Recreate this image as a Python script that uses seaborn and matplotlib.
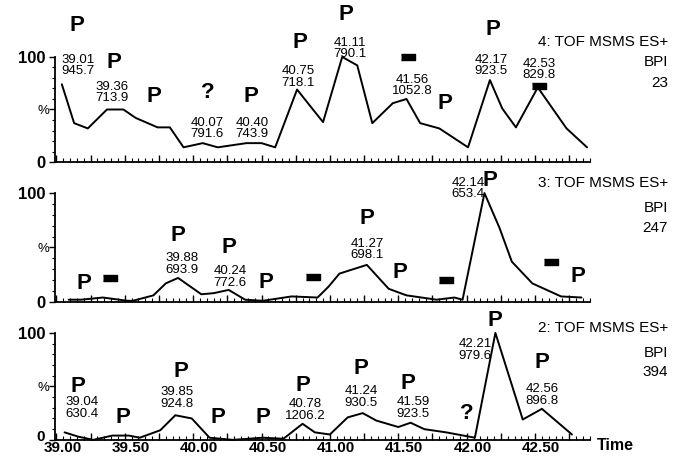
import matplotlib
matplotlib.use('Agg')
import matplotlib.pyplot as plt
import matplotlib.ticker as mticker
from matplotlib.transforms import ScaledTranslation
import numpy as np
import pandas as pd
import seaborn as sns

# trace 4 (top), 3 (middle), 2 (bottom): time (min), intensity (%)
t4 = [39.04, 39.13, 39.23, 39.37, 39.49, 39.58, 39.74, 39.83, 39.93, 40.07, 40.18, 40.39, 40.50,
      40.60, 40.76, 40.87, 40.95, 41.09, 41.20, 41.31, 41.46, 41.56, 41.66, 41.80, 42.01, 42.17,
      42.26, 42.36, 42.52, 42.73, 42.88]
i4 = [74, 37, 32, 50, 50, 42, 33, 33, 14, 18, 14, 18, 18, 14, 69, 51, 38, 100, 92, 37, 56, 60,
      37, 32, 14, 78, 51, 33, 71, 32, 14]

t3 = [39.09, 39.18, 39.34, 39.52, 39.56, 39.71, 39.80, 39.89, 40.06, 40.15, 40.26, 40.38, 40.51,
      40.72, 40.91, 40.99, 41.07, 41.27, 41.43, 41.56, 41.78, 41.91, 41.97, 42.13, 42.24, 42.33,
      42.48, 42.69, 42.84]
i3 = [2, 2, 4, 1, 1, 6, 17, 22, 7, 8, 11, 2, 1, 5, 4, 14, 26, 34, 12, 6, 2, 4, 2, 100, 68, 37,
      17, 5, 4]

t2 = [39.06, 39.16, 39.27, 39.41, 39.53, 39.61, 39.76, 39.87, 39.99, 40.12, 40.29, 40.51, 40.66,
      40.80, 40.89, 41.00, 41.13, 41.24, 41.34, 41.50, 41.59, 41.69, 41.85, 42.06, 42.21, 42.41,
      42.55, 42.77]
i2 = [7, 3, 0, 4, 4, 2, 9, 23, 20, 2, 0, 2, 1, 15, 7, 5, 21, 25, 18, 12, 16, 10, 7, 2, 100, 19,
      29, 5]

# peak labels: time, intensity position, text
lab4_t = [39.16, 39.41, 40.10, 40.43, 40.77, 41.15, 41.60, 42.18, 42.53]
lab4_y = [92, 66, 32, 32, 81, 108, 73, 92, 88]
lab4_s = ['39.01\n945.7', '39.36\n713.9', '40.07\n791.6', '40.40\n743.9', '40.75\n718.1',
          '41.11\n790.1', '41.56\n1052.8', '42.17\n923.5', '42.53\n829.8']
lab3_t = [39.92, 40.27, 41.27, 42.01]
lab3_y = [35, 23, 48, 104]
lab3_s = ['39.88\n693.9', '40.24\n772.6', '41.27\n698.1', '42.14\n653.4']
lab2_t = [39.19, 39.88, 40.82, 41.23, 41.61, 42.06, 42.55]
lab2_y = [30, 39, 28, 40, 30, 84, 42]
lab2_s = ['39.04\n630.4', '39.85\n924.8', '40.78\n1206.2', '41.24\n930.5', '41.59\n923.5',
          '42.21\n979.6', '42.56\n896.8']

# symbols: time, position, symbol ('P', '?' or '-' for a black bar)
sym4_t = [39.15, 39.42, 39.71, 40.11, 40.42, 40.78, 41.12, 41.57, 41.84, 42.19, 42.53]
sym4_y = [130, 95, 62, 66, 62, 114, 140, 100, 56, 126, 72]
sym4_s = ['P', 'P', 'P', '?', 'P', 'P', 'P', '-', 'P', 'P', '-']
sym3_t = [39.20, 39.39, 39.89, 40.26, 40.53, 40.88, 41.27, 41.51, 41.85, 42.17, 42.62, 42.81]
sym3_y = [17, 22, 61, 50, 18, 23, 77, 27, 20, 112, 37, 23]
sym3_s = ['P', '-', 'P', 'P', 'P', '-', 'P', 'P', '-', 'P', '-', 'P']
sym2_t = [39.16, 39.49, 39.91, 40.18, 40.51, 40.80, 41.23, 41.57, 42.00, 42.21, 42.55]
sym2_y = [50, 21, 64, 21, 21, 51, 67, 53, 25, 112, 72]
sym2_s = ['P', 'P', 'P', 'P', 'P', 'P', 'P', 'P', '?', 'P', 'P']

titles = [['4: TOF MSMS ES+', 'BPI', '23'],
          ['3: TOF MSMS ES+', 'BPI', '247'],
          ['2: TOF MSMS ES+', 'BPI', '394']]
title_y = [[1.14, 0.95, 0.75], [1.09, 0.86, 0.68], [1.05, 0.81, 0.63]]

sns.set_theme(style='ticks')
plt.rcParams['font.family'] = ['Liberation Sans', 'DejaVu Sans']
plt.rcParams['text.color'] = 'black'
plt.rcParams['xtick.color'] = 'black'
plt.rcParams['ytick.color'] = 'black'
plt.rcParams['axes.edgecolor'] = 'black'

fig = plt.figure(figsize=(6.83, 4.63), dpi=100)
boxes = [[0.0805, 0.650, 0.783, 0.227],
         [0.0805, 0.348, 0.783, 0.235],
         [0.0805, 0.050, 0.783, 0.231]]

panels = [(t4, i4, lab4_t, lab4_y, lab4_s, sym4_t, sym4_y, sym4_s),
          (t3, i3, lab3_t, lab3_y, lab3_s, sym3_t, sym3_y, sym3_s),
          (t2, i2, lab2_t, lab2_y, lab2_s, sym2_t, sym2_y, sym2_s)]

bar_marker = [(-1.25, -0.5), (1.25, -0.5), (1.25, 0.5), (-1.25, 0.5)]

for k, (tt, ii, lt, ly, ls, st, sy, ss) in enumerate(panels):
    ax = fig.add_axes(boxes[k])
    df = pd.DataFrame({'time': tt, 'pct': ii})
    sns.lineplot(data=df, x='time', y='pct', ax=ax, color='black', linewidth=1.4,
                 clip_on=False)
    ax.set_xlim(38.99, 42.90)
    ax.set_ylim(0, 100)
    ax.set_xlabel('')
    ax.set_ylabel('')
    for s in ['top', 'right']:
        ax.spines[s].set_visible(False)
    for s in ['left', 'bottom']:
        ax.spines[s].set_linewidth(1.3)
        ax.spines[s].set_color('black')

    ax.xaxis.set_major_locator(mticker.MultipleLocator(0.25))
    ax.xaxis.set_minor_locator(mticker.MultipleLocator(0.05))
    ax.tick_params(axis='x', which='both', bottom=True, direction='in', color='black')
    ax.tick_params(axis='x', which='major', length=5, width=1)
    ax.tick_params(axis='x', which='minor', length=3, width=0.8)
    if k == 2:
        ax.xaxis.set_major_formatter(mticker.FuncFormatter(
            lambda v, p: f'{v:.2f}' if abs(v * 2 - round(v * 2)) < 1e-6 else ''))
        ax.tick_params(axis='x', labelsize=11, pad=1)
        for lb in ax.get_xticklabels():
            lb.set_fontweight('bold')
            lb.set_transform(lb.get_transform() + ScaledTranslation(0.06, 0, fig.dpi_scale_trans))
        ax.text(1.013, -0.05, 'Time', transform=ax.transAxes, fontsize=11.5, fontweight='bold',
                ha='left', va='center')
    else:
        ax.tick_params(axis='x', labelbottom=False)

    ax.set_yticks([0, 50, 100])
    ax.set_yticklabels(['0', '%', '100'])
    ax.yaxis.set_minor_locator(mticker.MultipleLocator(10))
    ax.tick_params(axis='y', which='both', left=True, direction='out', color='black')
    ax.tick_params(axis='y', which='major', length=4, width=1, pad=3)
    ax.tick_params(axis='y', which='minor', length=2, width=0.8)
    ylabs = ax.get_yticklabels()
    for lb in ylabs:
        lb.set_fontsize(12)
        lb.set_fontweight('bold')
    ylabs[1].set_fontsize(9.5)
    ylabs[1].set_fontweight('normal')
    ylabs[1].set_transform(ylabs[1].get_transform() + ScaledTranslation(0.04, 0, fig.dpi_scale_trans))
    if k == 2:
        ylabs[0].set_fontsize(11)
        ylabs[0].set_transform(ylabs[0].get_transform() + ScaledTranslation(0, 0.04, fig.dpi_scale_trans))

    for x, y, s in zip(lt, ly, ls):
        ax.text(x, y, s, fontsize=9.5, ha='center', va='center', linespacing=0.95,
                color='black')

    bx = [x for x, s in zip(st, ss) if s == '-']
    by = [y for y, s in zip(sy, ss) if s == '-']
    ax.scatter(bx, by, marker=bar_marker, s=115, color='black', clip_on=False, zorder=3)
    for x, y, s in zip(st, sy, ss):
        if s != '-':
            ax.text(x, y, s, fontsize=16, fontweight='bold', ha='center', va='center',
                    color='black')

    for line, yy in zip(titles[k], title_y[k]):
        ax.text(1.146, yy, line, transform=ax.transAxes, fontsize=11, ha='right', va='center',
                color='black')

fig.savefig('out.png', dpi=100)
